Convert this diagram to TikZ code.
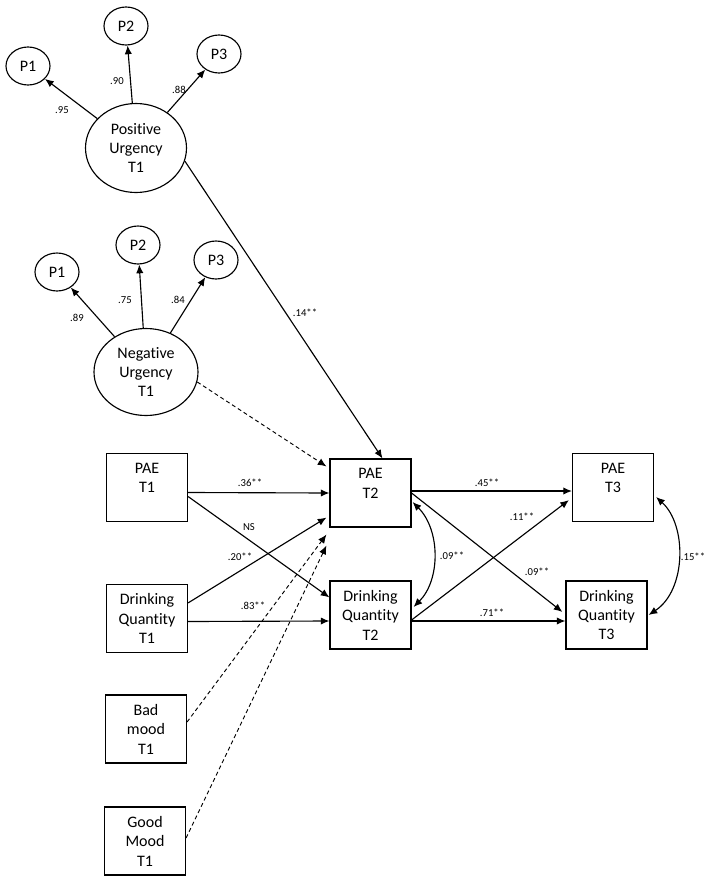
\documentclass[tikz,border=0pt]{standalone}
\usepackage{fontspec}
\setmainfont{Carlito}[RawFeature=-liga]
\usetikzlibrary{arrows.meta,calc,shapes.geometric}
\begin{document}
\begin{tikzpicture}[x=0.75pt,y=-0.75pt,
  lw/.style={line width=0.85pt},
  arr/.style={lw,-{Latex[length=6.5pt,width=5.5pt]}},
  darr/.style={lw,{Latex[length=6.5pt,width=5.5pt]}-{Latex[length=6.5pt,width=5.5pt]}},
  dsh/.style={line width=0.7pt,dash pattern=on 3pt off 2.2pt},
  ind/.style={ellipse,draw,lw,minimum width=33pt,minimum height=28.5pt,inner sep=0pt,font=\fontsize{12}{14.6}\selectfont},
  lat/.style={ellipse,draw,lw,inner sep=0pt,align=center,font=\fontsize{12}{14.6}\selectfont},
  box/.style={rectangle,draw,lw,minimum width=60.75pt,minimum height=51pt,inner sep=0pt,align=center,font=\fontsize{12}{14.6}\selectfont},
  lab/.style={font=\fontsize{8}{9}\selectfont,inner sep=1pt}]
\useasboundingbox (0,0) rectangle (711,882);
% latent variables
\node[lat,minimum width=75.75pt,minimum height=66.75pt] (pu) at (136,148) {Positive\\Urgency\\T1};
\node[ind] (pu1) at (28,66) {P1};
\node[ind] (pu2) at (126,26) {P2};
\node[ind] (pu3) at (219,54) {P3};
\node[lat,minimum width=78pt,minimum height=65.25pt] (nu) at (146,372) {Negative\\Urgency\\T1};
\node[ind] (nu1) at (57,272) {P1};
\node[ind] (nu2) at (138,245) {P2};
\node[ind] (nu3) at (216,260) {P3};
% boxes
\node[box] (pae1) at (147,487.5) {PAE\\T1\\\mbox{}};
\node[box] (dq1) at (147,618.5) {Drinking\\Quantity\\T1};
\node[box] (bad) at (146,729) {Bad\\mood\\T1};
\node[box] (good) at (145,841) {Good\\Mood\\T1};
\node[box] (pae2) at (370.5,493) {PAE\\T2\\\mbox{}};
\node[box] (dq2) at (370.5,615) {Drinking\\Quantity\\T2};
\node[box] (pae3) at (613,487.5) {PAE\\T3\\\mbox{}};
\node[box] (dq3) at (606.5,615) {Drinking\\Quantity\\T3};
% measurement arrows
\draw[arr] (pu) -- (pu1);
\draw[arr] (pu) -- (pu2);
\draw[arr] (pu) -- (pu3);
\draw[arr] (nu) -- (nu1);
\draw[arr] (nu) -- (nu2);
\draw[arr] (nu) -- (nu3);
\node[lab] (l95) at (62,110) {.95};
\node[lab] (l90) at (117,81) {.90};
\node[lab] (l88) at (179,90) {.88};
\node[lab] (l89) at (77,318) {.89};
\node[lab] (l75) at (125,300) {.75};
\node[lab] (l84) at (178,300) {.84};
% paths to PAE T2
\draw[arr] (pu.-15) -- ($(pae2.north)+(12,0)$);
\node[lab] (l14) at (305,313) {.14**};
\draw[arr,dsh] (nu.-11) -- ($(pae2.north west)+(-3,8)$);
\draw[arr] ($(pae1.east)+(0,5)$) -- (pae2.west);
\node[lab] (l36) at (250,483) {.36**};
\draw[arr] ($(pae1.east)+(0,9)$) -- ($(dq2.north west)+(0,17)$);
\node[lab] (lns) at (249,527) {NS};
\draw[arr] ($(dq1.north east)+(0,19)$) -- ($(pae2.south west)+(-3,-10)$);
\node[lab] (l20) at (240,557) {.20**};
\draw[arr] ($(dq1.east)+(0,3)$) -- ($(dq2.west)+(0,6)$);
\node[lab] (l83) at (253,606) {.83**};
\draw[arr,dsh] ($(bad.east)+(0,-7)$) -- ($(pae2.south west)+(-3,7)$);
\draw[arr,dsh] ($(good.east)+(0,-3)$) -- ($(pae2.south west)+(-3,18)$);
% T2 -> T3
\draw[arr] ($(pae2.east)+(0,-2)$) -- ($(pae3.west)+(0,3.5)$);
\node[lab] (l45) at (487,483) {.45**};
\draw[arr] (pae2.east) -- ($(dq3.west)+(-3,-3)$);
\node[lab] (l09b) at (537,572) {.09**};
\draw[arr] ($(dq2.east)+(0,5)$) -- ($(pae3.south west)+(-3,-22)$);
\node[lab] (l11) at (522,517) {.11**};
\draw[arr] ($(dq2.east)+(0,6)$) -- ($(dq3.west)+(0,6)$);
\node[lab] (l71) at (492,613) {.71**};
% covariances
\draw[darr] ($(pae2.east)+(1,9)$) .. controls ($(pae2.east)+(29,37)$) and ($(dq2.east)+(29,-35)$) .. ($(dq2.east)+(2,-8)$);
\node[lab] (l09a) at (452,556) {.09**};
\draw[darr] ($(pae3.east)+(2,9.5)$) .. controls ($(pae3.east)+(33,37.5)$) and ($(dq3.east)+(39,-25)$) .. ($(dq3.east)+(1,0)$);
\node[lab] (l15) at (693,557) {.15**};
\end{tikzpicture}
\end{document}
